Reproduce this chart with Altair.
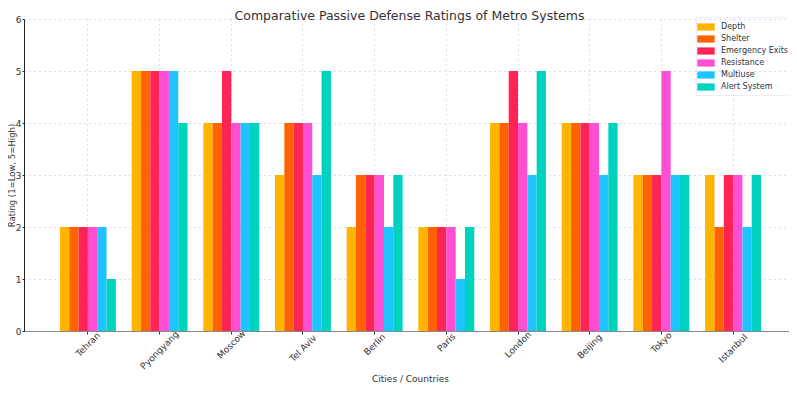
import altair as alt
import pandas as pd

cities = ["Tehran", "Pyongyang", "Moscow", "Tel Aviv", "Berlin",
          "Paris", "London", "Beijing", "Tokyo", "Istanbul"]
metrics = ["Depth", "Shelter", "Emergency Exits", "Resistance", "Multiuse", "Alert System"]
depth = [2, 5, 4, 3, 2, 2, 4, 4, 3, 3]
shelter = [2, 5, 4, 4, 3, 2, 4, 4, 3, 2]
emergency_exits = [2, 5, 5, 4, 3, 2, 5, 4, 3, 3]
resistance = [2, 5, 4, 4, 3, 2, 4, 4, 5, 3]
multiuse = [2, 5, 4, 3, 2, 1, 3, 3, 3, 2]
alert_system = [1, 4, 4, 5, 3, 2, 5, 4, 3, 3]
colors = ["#FFB400", "#FF6200", "#FF2456", "#FF50D4", "#1EC4FF", "#00D2C0"]

series = [depth, shelter, emergency_exits, resistance, multiuse, alert_system]
rows = []
for m, vals in zip(metrics, series):
    for c, v in zip(cities, vals):
        rows.append({"City": c, "Metric": m, "Rating": v})
df = pd.DataFrame(rows)

FONT = "DejaVu Sans"

chart = alt.Chart(df).mark_bar().encode(
    x=alt.X("City:N", sort=cities,
            scale=alt.Scale(paddingInner=0.22, paddingOuter=0.446, align=0.5625),
            axis=alt.Axis(title="Cities / Countries", labelAngle=-45,
                          labelAlign="center", labelBaseline="middle",
                          labelPadding=alt.ExprRef(expr="-5 + 0.354 * (length(datum.label) * 5.4 + 10)"),
                          labelFontSize=9, labelColor="#333", labelFont=FONT,
                          titleFontSize=9, titleColor="#333", titleFont=FONT,
                          titleFontWeight="normal", titleX=386, titleY=47, titleBaseline="middle",
                          tickSize=3, tickColor="#333", domainColor="#888",
                          grid=True, gridColor="#b8b8e8", gridDash=[1, 4])),
    xOffset=alt.XOffset("Metric:N", sort=metrics,
                        scale=alt.Scale(domain=metrics, paddingInner=0, paddingOuter=0)),
    y=alt.Y("Rating:Q", scale=alt.Scale(domain=[0, 6], nice=False),
            axis=alt.Axis(title="Rating (1=Low, 5=High)", values=[0, 1, 2, 3, 4, 5, 6],
                          labelFontSize=9, labelColor="#333", labelFont=FONT, labelPadding=1,
                          titleFontSize=8.5, titleColor="#333", titleFont=FONT,
                          titleFontWeight="normal", titleX=-7.5, titleY=156,
                          titleAlign="center", titleBaseline="bottom", titleAngle=-90,
                          tickSize=2, tickColor="#333", domainColor="#222",
                          grid=True, gridColor="#b8b8e8", gridDash=[1, 4])),
    color=alt.Color("Metric:N", sort=metrics,
                    scale=alt.Scale(domain=metrics, range=colors),
                    legend=alt.Legend(title=None, orient="none", legendX=672, legendY=-2,
                                      symbolType="M-1.45,-0.6H1.45V0.6H-1.45Z",
                                      symbolSize=144, symbolStrokeWidth=0, symbolOpacity=1,
                                      labelFontSize=8, labelColor="#333", labelFont=FONT,
                                      labelOffset=9, rowPadding=2, padding=4,
                                      strokeColor="#c8c8ec")),
).properties(
    width=765, height=312,
    title=alt.TitleParams("Comparative Passive Defense Ratings of Metro Systems",
                          fontSize=12.5, font=FONT, color="#333", fontWeight="normal",
                          anchor="middle", offset=0, baseline="bottom", dy=20, dx=3),
    autosize=alt.AutoSizeParams(type="none"),
    padding={"left": 16, "top": 11, "right": 0, "bottom": 54},
).configure_view(stroke=None).configure_legend(strokeDash=[1, 2])

chart.save("out.html", embed_options={"renderer": "svg", "actions": False})
